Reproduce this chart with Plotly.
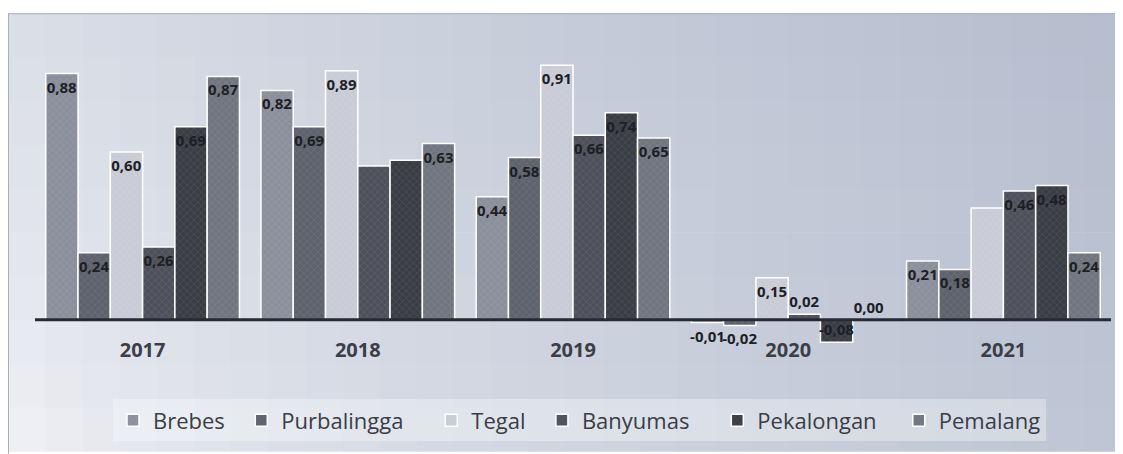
"""Bar chart: yearly values per regency (Brebes ... Pemalang), 2017-2021."""

import plotly.graph_objects as go

W, H = 1123, 454
OFF = 8  # the page body margin the figure sits inside

years = ["2017", "2018", "2019", "2020", "2021"]

brebes = [0.88, 0.82, 0.44, -0.01, 0.21]
purbalingga = [0.24, 0.69, 0.58, -0.02, 0.18]
tegal = [0.60, 0.89, 0.91, 0.15, 0.40]
banyumas = [0.26, 0.55, 0.66, 0.02, 0.46]
pekalongan = [0.69, 0.57, 0.74, -0.08, 0.48]
pemalang = [0.87, 0.63, 0.65, 0.00, 0.24]

# which values carry a printed label in the original (1 = shown)
brebes_lbl = [1, 1, 1, 1, 1]
purbalingga_lbl = [1, 1, 1, 1, 1]
tegal_lbl = [1, 1, 1, 1, 0]
banyumas_lbl = [1, 0, 1, 1, 1]
pekalongan_lbl = [1, 0, 1, 1, 1]
pemalang_lbl = [1, 1, 1, 1, 1]

series = [
    ("Brebes", brebes, brebes_lbl, "#8b8f9b", 2),
    ("Purbalingga", purbalingga, purbalingga_lbl, "#5e626d", 4),
    ("Tegal", tegal, tegal_lbl, "#c9ccd7", 2),
    ("Banyumas", banyumas, banyumas_lbl, "#4e515b", 4),
    ("Pekalongan", pekalongan, pekalongan_lbl, "#3b3d45", 3),
    ("Pemalang", pemalang, pemalang_lbl, "#71757f", 0),
]

# plot area, in page pixels
PL, PR, PT, PB = 35, 1111, 54, 347
FW, FH = W - OFF, H - OFF
L, T = PL - OFF, PT - OFF
R, B = FW - (PR - OFF), FH - (PB - OFF)
Y_RANGE = [-0.09, 0.95]
PW, PH = FW - L - R, FH - T - B


def px_x(x):
    return (x - PL) / PW


def px_y(y):
    return (PB - y) / PH


def fmt(v):
    return f"{v:.2f}".replace(".", ",")


fig = go.Figure()

for name, vals, shown, color, pad in series:
    text = [fmt(v) if s else "" for v, s in zip(vals, shown)]
    pos = ["outside" if abs(v) < 0.05 else "inside" for v in vals]
    fig.add_trace(go.Bar(
        x=years,
        y=vals,
        name=name + "\u00a0" * pad,
        text=text,
        textposition=pos,
        textangle=0,
        insidetextanchor="end",
        textfont=dict(family="Open Sans", size=15, color="#1d1f25", weight="bold"),
        marker=dict(
            color=color,
            line=dict(color="white", width=1.5),
            pattern=dict(shape="x", size=5, solidity=0.15,
                         fgcolor="rgba(255,255,255,0.35)", fgopacity=0.5),
        ),
        cliponaxis=False,
    ))

# background: soft diagonal gradient (light bottom-left to blue-grey right)
shapes = []
light, dark = (244, 245, 248), (181, 189, 206)
nx, ny = 30, 10
x0p, x1p, y0p, y1p = 8, W, 13, H
for i in range(nx):
    for j in range(ny):
        xn = (i + 0.5) / nx
        yn = (j + 0.5) / ny
        t = min(1.0, max(0.0, 0.78 * xn + 0.22 * (1 - yn))) ** 0.6
        c = tuple(round(a + (b - a) * t) for a, b in zip(light, dark))
        xa = x0p + (x1p - x0p) * i / nx
        xb = x0p + (x1p - x0p) * (i + 1) / nx
        ya = y0p + (y1p - y0p) * j / ny
        yb = y0p + (y1p - y0p) * (j + 1) / ny
        shapes.append(dict(
            type="rect", xref="paper", yref="paper", layer="below",
            x0=px_x(xa), x1=px_x(xb) + 0.001, y0=px_y(yb) - 0.002, y1=px_y(ya),
            fillcolor=f"rgb{c}", line=dict(width=0),
        ))
shapes.append(dict(
    type="rect", xref="paper", yref="paper", layer="below",
    x0=px_x(8.5), x1=px_x(W + 5), y0=px_y(H + 5), y1=px_y(13.5),
    fillcolor="rgba(0,0,0,0)", line=dict(color="#a9aebb", width=1),
))
# axis line at zero, drawn over the bars
shapes.append(dict(
    type="line", xref="paper", yref="y", layer="above",
    x0=0, x1=1, y0=0, y1=0,
    line=dict(color="#252a35", width=3),
))

fig.update_layout(
    width=FW,
    height=FH,
    margin=dict(l=L, r=R, t=T, b=B),
    paper_bgcolor="white",
    plot_bgcolor="rgba(0,0,0,0)",
    barmode="group",
    bargap=0.1,
    bargroupgap=0,
    shapes=shapes,
    showlegend=True,
    uniformtext=dict(minsize=15, mode="show"),
    font=dict(family="Open Sans", color="#3a3d46"),
    xaxis=dict(
        showgrid=False,
        showline=False,
        ticks="",
        anchor="free",
        position=0.03,
        tickfont=dict(family="Open Sans", size=20, color="#3b3e47", weight="bold"),
    ),
    yaxis=dict(
        range=Y_RANGE,
        showgrid=False,
        showticklabels=False,
        zeroline=False,
    ),
    legend=dict(
        orientation="h",
        x=px_x(113),
        xanchor="left",
        y=px_y(423),
        yanchor="middle",
        font=dict(family="Open Sans", size=22, color="#3a3d46"),
        bgcolor="rgba(250,251,253,0.35)",
        itemclick=False,
    ),
)

fig.write_html("out.html")
